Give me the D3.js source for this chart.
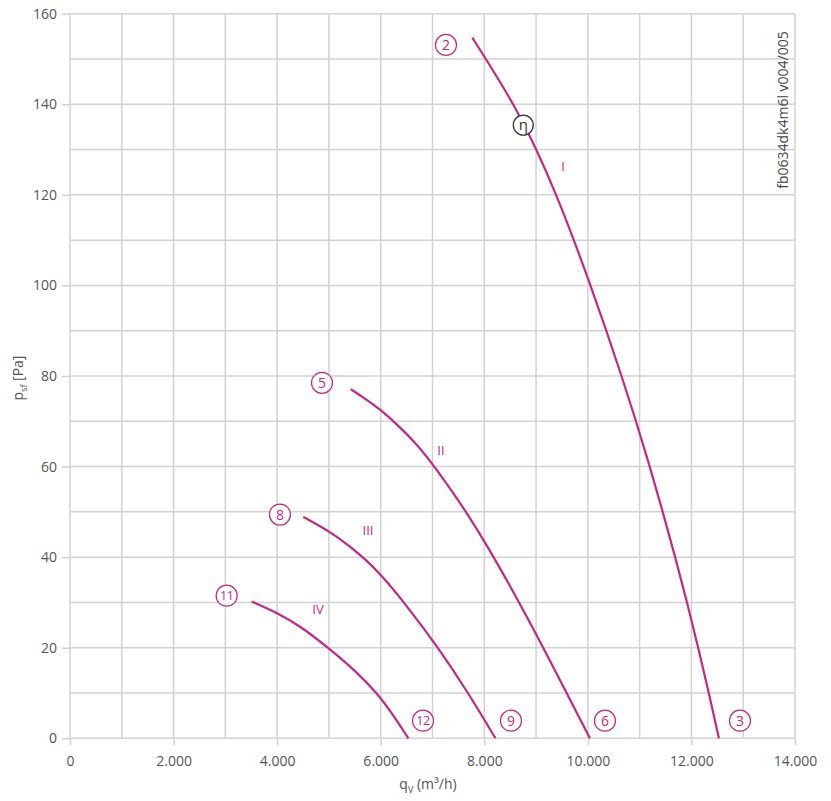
<!DOCTYPE html>
<html>
<head>
<meta charset="utf-8">
<script src="https://cdn.jsdelivr.net/npm/d3@7"></script>
<style>
  body { margin: 0; background: #fff; }
  text { font-family: "Open Sans", "Noto Sans", sans-serif; }
</style>
</head>
<body>
<svg id="chart" width="831" height="801"></svg>
<script>
// ---- data ----
const xTicks = [0, 2000, 4000, 6000, 8000, 10000, 12000, 14000];
const yTicks = [0, 20, 40, 60, 80, 100, 120, 140, 160];

const curveI = [[7768,154.7],[8032,150],[8572,140],[9012,130],[9392,120],[9732,110],[10052,100],[10357,90],[10652,80],[10932,70],[11197,60],[11447,50],[11687,40],[11917,30],[12132,20],[12337,10],[12531,0]];
const curveII = [[5420,77.1],[5700,75],[5990,72.6],[6250,70],[6700,65],[7040,60],[7660,50],[8185,40],[8675,30],[9140,20],[9590,10],[10040,0]];
const curveIII = [[4505,48.9],[5000,45.8],[5406,42.4],[5696,39.6],[6000,36.2],[6456,30],[7112,20],[7692,10],[8216,0]];
const curveIV = [[3508,30.2],[4022,27.6],[4441,24.8],[4988,20],[5503,15],[5930,10],[6250,5],[6533,0]];
const curves = [curveI, curveII, curveIII, curveIV];

const pointLabels = [["2",7260,153.1],["3",12937,3.9],["5",4866,78.5],["6",10330,3.9],["8",4054,49.4],["9",8515,3.9],["11",3025,31.5],["12",6816,3.9]];
const curveNames = [["I",9519,126.4],["II",7163,63.5],["III",5754,46.0],["IV",4789,28.4]];
const etaMark = [8753,135.4];
const xLabel = "q";
const yLabel = "p";
const docId = "fb0634dk4m6l v004/005";

// ---- layout ----
const M = {left: 70, right: 795, top: 13.7, bottom: 738.3};
const x = d3.scaleLinear().domain([0, 14000]).range([M.left, M.right]);
const y = d3.scaleLinear().domain([0, 160]).range([M.bottom, M.top]);
const magenta = "#c42886";
const grid = "#d2d2d2";
const txt = "#555";

const svg = d3.select("#chart");
const loc = d3.formatLocale({decimal: ",", thousands: ".", grouping: [3], currency: ["", ""]});
const fmt = loc.format(",d");

// grid
const g = svg.append("g");
g.selectAll("line.v").data(d3.range(0, 14001, 1000)).join("line")
  .attr("x1", d => x(d)).attr("x2", d => x(d))
  .attr("y1", M.top).attr("y2", M.bottom)
  .attr("stroke", grid).attr("stroke-width", 1.5);
g.selectAll("line.h").data(d3.range(0, 161, 10)).join("line")
  .attr("y1", d => y(d)).attr("y2", d => y(d))
  .attr("x1", M.left).attr("x2", M.right)
  .attr("stroke", grid).attr("stroke-width", 1.5);

// axes
const xAxis = d3.axisBottom(x).tickValues(xTicks).tickFormat(fmt).tickSize(7).tickPadding(11);
const yAxis = d3.axisLeft(y).tickValues(yTicks).tickFormat(d3.format("d")).tickSize(8).tickPadding(5);
const gx = svg.append("g").attr("transform", `translate(0,${M.bottom})`).call(xAxis);
const gy = svg.append("g").attr("transform", `translate(${M.left},0)`).call(yAxis);
[gx, gy].forEach(a => {
  a.select(".domain").remove();
  a.selectAll(".tick line").attr("stroke", grid).attr("stroke-width", 1.5);
  a.selectAll(".tick text").attr("fill", txt).style("font-size", "14px").style("font-family", '"Open Sans", sans-serif');
});

// curves
const line = d3.line().x(d => x(d[0])).y(d => y(d[1])).curve(d3.curveBasis);
svg.append("g").selectAll("path").data(curves).join("path")
  .attr("d", line).attr("fill", "none").attr("stroke", magenta).attr("stroke-width", 2.2);

// circled point labels
const pl = svg.append("g").selectAll("g").data(pointLabels).join("g")
  .attr("transform", d => `translate(${x(d[1])},${y(d[2])})`);
pl.append("circle").attr("r", 10.5).attr("fill", "#fff").attr("stroke", magenta).attr("stroke-width", 1.2);
pl.append("text").text(d => d[0]).attr("text-anchor", "middle").attr("dy", "0.36em")
  .attr("fill", magenta).style("font-size", d => d[0].length > 1 ? "12.5px" : "14px")
  .attr("letter-spacing", d => d[0].length > 1 ? "-0.5px" : "0");

// curve names
svg.append("g").selectAll("text").data(curveNames).join("text")
  .attr("x", d => x(d[1])).attr("y", d => y(d[2])).attr("dy", "0.36em")
  .attr("text-anchor", "middle").attr("fill", magenta).style("font-size", "13px")
  .text(d => d[0]);

// eta marker
const eta = svg.append("g").attr("transform", `translate(${x(etaMark[0])},${y(etaMark[1])})`);
eta.append("circle").attr("r", 10).attr("fill", "#fff").attr("stroke", "#333").attr("stroke-width", 1.3);
eta.append("text").text("η").attr("text-anchor", "middle").attr("dy", "0.32em").attr("fill", "#333").style("font-size", "15px");

// doc id
svg.append("text").attr("transform", "translate(788,110) rotate(-90)").attr("text-anchor", "middle")
  .attr("fill", "#444").style("font-size", "14px").text(docId);

// axis titles
const yt = svg.append("text").attr("transform", "translate(23,378) rotate(-90)").attr("text-anchor", "middle")
  .attr("fill", txt).style("font-size", "14px");
yt.append("tspan").text(yLabel);
yt.append("tspan").text("sf").attr("dy", 4).style("font-size", "9px");
yt.append("tspan").text(" [Pa]").attr("dy", -4);

const xt = svg.append("text").attr("x", 428).attr("y", 789).attr("text-anchor", "middle")
  .attr("fill", txt).style("font-size", "14px");
xt.append("tspan").text(xLabel);
xt.append("tspan").text("V").attr("dy", 4).style("font-size", "9px");
xt.append("tspan").text(" (m³/h)").attr("dy", -4);
</script>
</body>
</html>
